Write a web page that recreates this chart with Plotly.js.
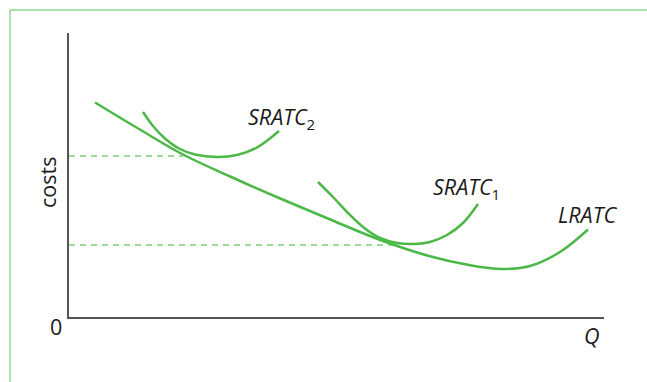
<!DOCTYPE html>
<html>
<head>
<meta charset="utf-8">
<script src="https://cdn.plot.ly/plotly-3.0.1.min.js"></script>
<style>html,body{margin:0;padding:0;background:#fff;}#chart{width:647px;height:382px;}</style>
</head>
<body>
<div id="chart"></div>
<script>
// Abstract quantity (Q) and cost scales
const lratcQ = [26, 70, 114, 160, 210, 260, 310, 360, 400, 433, 461, 491, 519];
const lratcC = [214.5, 188, 162.5, 141, 119, 98, 77.5, 61, 52, 48, 51, 65, 87.5];

const sratc2Q = [74, 84, 96, 110, 126, 148, 168, 188, 210];
const sratc2C = [205, 191, 178.5, 168.5, 162.5, 160, 162, 169.5, 186];

const sratc1Q = [249, 264, 278, 294, 311, 328, 344, 361, 378, 394, 409];
const sratc1C = [135, 120, 105, 90, 79, 74, 73, 75, 82, 94, 113];

const dashHighQ = [0, 114];
const dashHighC = [161, 161];
const dashLowQ = [0, 324];
const dashLowC = [72, 72];

const labels = ["<i>SRATC</i><sub>2</sub>", "<i>SRATC</i><sub>1</sub>", "<i>LRATC</i>"];
const axisTexts = ["0", "<i>Q</i>", "costs"];

const green = "#4cb848";
const lightGreen = "#7fcf79";
const font = "Open Sans, Noto Sans, sans-serif";

const traces = [
  {x: dashHighQ, y: dashHighC, mode: "lines", line: {color: lightGreen, width: 1.3, dash: "6px,5px"}},
  {x: dashLowQ, y: dashLowC, mode: "lines", line: {color: lightGreen, width: 1.3, dash: "6px,5px"}},
  {x: lratcQ, y: lratcC, mode: "lines", line: {color: green, width: 2.5, shape: "spline", smoothing: 1}},
  {x: sratc2Q, y: sratc2C, mode: "lines", line: {color: green, width: 2.5, shape: "spline", smoothing: 1}},
  {x: sratc1Q, y: sratc1C, mode: "lines", line: {color: green, width: 2.5, shape: "spline", smoothing: 1}}
];

const txt = {family: font, size: 21.5, color: "#1a1a1a"};

const layout = {
  width: 647, height: 382,
  margin: {l: 69, r: 43, t: 33, b: 65},
  paper_bgcolor: "#fff", plot_bgcolor: "#fff",
  showlegend: false,
  xaxis: {range: [0, 535], showgrid: false, zeroline: false, showticklabels: false, ticks: "",
          showline: true, linecolor: "#555", linewidth: 2, fixedrange: true},
  yaxis: {range: [0, 284], showgrid: false, zeroline: false, showticklabels: false, ticks: "",
          showline: true, linecolor: "#555", linewidth: 2, fixedrange: true},
  shapes: [
    {type: "line", xref: "paper", yref: "paper", x0: -0.1103, x1: 1.1, y0: 1.081, y1: 1.081, line: {color: "#8fd88a", width: 1.5}},
    {type: "line", xref: "paper", yref: "paper", x0: -0.1103, x1: -0.1103, y0: 1.081, y1: -0.3, line: {color: "#8fd88a", width: 1.5}}
  ],
  annotations: [
    {x: 177, y: 199.5, xref: "x", yref: "y", text: labels[0], showarrow: false, xanchor: "left", yanchor: "middle", font: txt},
    {x: 362, y: 129, xref: "x", yref: "y", text: labels[1], showarrow: false, xanchor: "left", yanchor: "middle", font: txt},
    {x: 487, y: 102.5, xref: "x", yref: "y", text: labels[2], showarrow: false, xanchor: "left", yanchor: "middle", font: txt},
    {x: -0.0252, y: -0.0352, xref: "paper", yref: "paper", text: axisTexts[0], showarrow: false, xanchor: "center", yanchor: "middle", font: txt},
    {x: 0.9776, y: -0.0634, xref: "paper", yref: "paper", text: axisTexts[1], showarrow: false, xanchor: "center", yanchor: "middle", font: txt},
    {x: -0.0402, y: 0.4736, xref: "paper", yref: "paper", text: axisTexts[2], textangle: -90, showarrow: false, xanchor: "center", yanchor: "middle", font: txt}
  ]
};

Plotly.newPlot("chart", traces, layout, {displayModeBar: false, staticPlot: true});
</script>
</body>
</html>
